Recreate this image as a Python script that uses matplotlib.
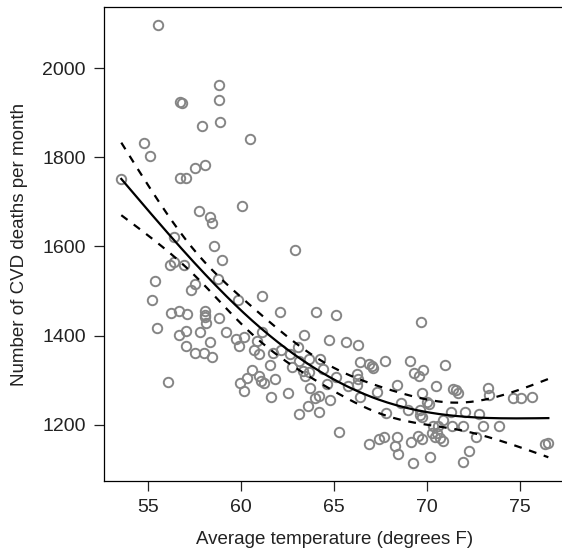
import numpy as np
import matplotlib
matplotlib.use("Agg")
import matplotlib.pyplot as plt

plt.rcParams['font.family'] = ['Liberation Sans', 'DejaVu Sans']

# monthly average temperature (deg F) and CVD deaths
temp = [55.54, 58.82, 58.83, 56.72, 56.84, 57.92, 58.85, 60.50, 54.77, 55.12,
        53.56, 56.72, 57.04, 57.54, 58.05, 60.05, 57.74, 58.32, 58.44, 56.40,
        58.56, 58.98, 56.18, 56.40, 56.94, 58.76, 55.36, 57.51, 57.29, 55.23,
        59.84, 61.10,
        56.24, 56.67, 57.10, 58.05, 58.05, 58.08, 58.83, 58.13, 55.48, 57.04,
        56.67, 57.80, 58.35, 59.19, 59.72, 60.16, 59.88, 57.04, 57.53, 58.03,
        58.46, 60.30, 59.95, 60.18, 56.08,
        62.90, 62.10, 64.05, 65.12, 63.40, 61.11, 60.88, 60.70, 60.98, 64.73,
        65.63, 66.29, 62.13, 61.70, 62.65, 63.06, 63.63, 63.13, 64.25, 61.58,
        62.72, 63.33, 63.42, 63.66, 64.41, 66.40, 66.88, 67.03, 67.08, 67.76,
        65.09, 64.60, 66.24, 66.31, 66.25, 65.75, 66.40, 67.31, 68.37, 60.57,
        60.98, 61.08, 61.25, 61.83, 61.63, 62.51, 63.71, 63.99, 64.18, 63.59,
        64.80, 63.10, 64.21, 67.78, 65.25, 66.88, 67.44, 67.69, 68.37, 68.28,
        68.42,
        69.68, 69.09, 70.98, 69.30, 69.78, 69.59, 70.46, 71.38, 71.56, 71.65,
        69.71, 73.30, 73.33, 74.61, 75.04, 75.65, 68.60, 68.99, 69.98, 70.13,
        69.62, 69.62, 69.71, 71.29, 72.03, 72.81, 70.34, 70.61, 71.34, 71.92,
        73.03, 73.89, 70.27, 70.55, 70.45, 70.88, 70.70, 69.53, 69.71, 69.14,
        72.63, 70.16, 69.23, 72.27, 71.92, 76.34, 76.52, 70.88]
deaths = [2096, 1962, 1929, 1924, 1921, 1870, 1880, 1841, 1832, 1803,
          1752, 1753, 1753, 1776, 1783, 1691, 1680, 1667, 1652, 1621,
          1602, 1569, 1558, 1565, 1559, 1528, 1522, 1515, 1502, 1479,
          1479, 1490,
          1451, 1455, 1449, 1455, 1446, 1441, 1440, 1429, 1417, 1411,
          1401, 1408, 1385, 1408, 1392, 1397, 1377, 1377, 1361, 1361,
          1353, 1305, 1295, 1277, 1296,
          1592, 1454, 1453, 1446, 1402, 1408, 1389, 1368, 1358, 1391,
          1387, 1379, 1369, 1362, 1358, 1375, 1349, 1344, 1349, 1334,
          1331, 1321, 1310, 1319, 1325, 1342, 1336, 1333, 1327, 1343,
          1307, 1292, 1314, 1302, 1290, 1287, 1263, 1273, 1290, 1323,
          1310, 1299, 1293, 1302, 1263, 1271, 1284, 1261, 1265, 1243,
          1256, 1224, 1229, 1226, 1184, 1157, 1169, 1173, 1172, 1153,
          1135,
          1431, 1344, 1334, 1317, 1323, 1310, 1288, 1280, 1278, 1272,
          1271, 1284, 1267, 1261, 1261, 1263, 1250, 1234, 1252, 1247,
          1234, 1222, 1217, 1229, 1229, 1225, 1198, 1198, 1198, 1198,
          1198, 1198, 1181, 1181, 1172, 1165, 1170, 1175, 1168, 1163,
          1174, 1129, 1114, 1142, 1117, 1157, 1160, 1211]

xticks = [55, 60, 65, 70, 75]
yticks = [1200, 1400, 1600, 1800, 2000]

x = np.array(temp)
y = np.array(deaths, dtype=float)


def ns_basis(v, knots):
    # natural cubic spline basis (ESL 5.4), intercept included
    K = len(knots)
    def d(k):
        return ((np.clip(v - knots[k], 0, None) ** 3
                 - np.clip(v - knots[-1], 0, None) ** 3) / (knots[-1] - knots[k]))
    cols = [np.ones_like(v), v - 65] + [d(k) - d(K - 2) for k in range(K - 2)]
    return np.column_stack(cols)


# least squares on ns(temp, 3) with a pointwise confidence band
knots = np.r_[x.min(), np.quantile(x, [1 / 3, 2 / 3]), x.max()]
X = ns_basis(x, knots)
beta, *_ = np.linalg.lstsq(X, y, rcond=None)
resid = y - X @ beta
sigma2 = resid @ resid / (len(y) - X.shape[1])
cov = sigma2 * np.linalg.inv(X.T @ X)
xg = np.linspace(x.min(), x.max(), 200)
G = ns_basis(xg, knots)
fit = G @ beta
se = np.sqrt(np.einsum('ij,jk,ik->i', G, cov, G))
lo, hi = fit - 1.645 * se, fit + 1.645 * se

fig = plt.figure(figsize=(5.62, 5.53), dpi=100)
ax = fig.add_axes([104 / 562, 72 / 553, 462 / 562, 474 / 553])

ax.plot(x, y, 'o', ms=6.8, mfc='none', mec='#858585', mew=1.4, zorder=2)
ax.plot(xg, fit, color='black', lw=1.6, zorder=3)
ax.plot(xg, lo, color='black', lw=1.6, dashes=(3.5, 3.5), zorder=3)
ax.plot(xg, hi, color='black', lw=1.6, dashes=(3.5, 3.5), zorder=3)

ax.set_xlim(52.63, 77.47)
ax.set_ylim(1074.5, 2136.7)
ax.set_xticks(xticks)
ax.set_yticks(yticks)
ax.tick_params(labelsize=14, length=7, width=0.9, pad=6, colors='#222222')
for s in ax.spines.values():
    s.set_linewidth(0.9)
ax.set_xlabel('Average temperature (degrees F)', fontsize=13.5, labelpad=11, color='#222222')
ax.set_ylabel('Number of CVD deaths per month', fontsize=13.5, labelpad=10, color='#222222')

fig.savefig('out.png', dpi=100)
